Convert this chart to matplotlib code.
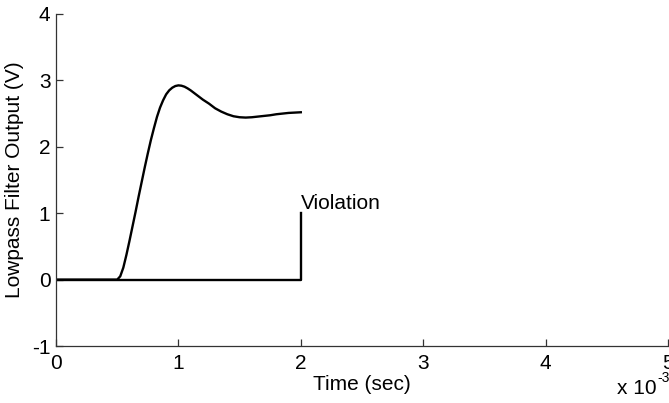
import matplotlib
matplotlib.use("Agg")
import matplotlib.pyplot as plt

plt.rcParams["font.family"] = ["Liberation Sans", "DejaVu Sans"]

# filter output (time in ms)
t_filter_ms = [0, 0.5, 0.525, 0.55, 0.575, 0.6, 0.625, 0.65, 0.675, 0.7, 0.725,
               0.75, 0.775, 0.8, 0.825, 0.85, 0.875, 0.9, 0.925, 0.95, 0.975,
               1.0, 1.025, 1.05, 1.075, 1.1, 1.15, 1.2, 1.25, 1.3, 1.35, 1.4,
               1.45, 1.5, 1.55, 1.6, 1.65, 1.7, 1.75, 1.8, 1.85, 1.9, 1.95, 2.0]
v_filter = [0, 0, 0.05, 0.18, 0.37, 0.58, 0.8, 1.02, 1.25, 1.47, 1.69,
            1.9, 2.1, 2.28, 2.45, 2.59, 2.7, 2.79, 2.85, 2.89, 2.915,
            2.925, 2.92, 2.905, 2.88, 2.85, 2.78, 2.71, 2.65, 2.58, 2.53, 2.49,
            2.46, 2.445, 2.44, 2.445, 2.455, 2.465, 2.475, 2.49, 2.5, 2.51, 2.515, 2.52]

# violation indicator
t_viol_ms = [0, 2.0, 2.0]
v_viol = [0, 0, 1]

x_ticks = [0, 1, 2, 3, 4, 5]
y_ticks = [-1, 0, 1, 2, 3, 4]

fs = 15

fig = plt.figure(figsize=(6.69, 4.03), dpi=100)
ax = fig.add_axes([0.0837, 0.1414, 0.9148, 0.8239])

ax.plot([t * 1e-3 for t in t_filter_ms], v_filter, color="black", linewidth=1.7,
        solid_joinstyle="round")
ax.plot([t * 1e-3 for t in t_viol_ms], v_viol, color="black", linewidth=1.7)
ax.text(2.0e-3, 1.15, "Violation", fontsize=fs, ha="left", va="center")

ax.set_xlim(0, 5e-3)
ax.set_ylim(-1, 4)
ax.set_xticks([x * 1e-3 for x in x_ticks])
ax.set_xticklabels([str(x) for x in x_ticks])
ax.set_yticks(y_ticks)
ax.set_yticklabels([str(y) for y in y_ticks])

for side in ("top", "right"):
    ax.spines[side].set_visible(False)
for side in ("left", "bottom"):
    ax.spines[side].set_color("#333333")
    ax.spines[side].set_linewidth(0.9)
ax.tick_params(direction="in", length=5, width=0.9, color="#333333",
               labelsize=fs, pad=4)
ax.tick_params(axis="x", pad=6)

ax.set_xlabel("Time (sec)", fontsize=fs, labelpad=1)
ax.set_ylabel("Lowpass Filter Output (V)", fontsize=fs, labelpad=6)

# MATLAB-style exponent label
fig.text(0.982, 0.012, "x 10", fontsize=fs, ha="right", va="bottom")
fig.text(0.982, 0.045, "-3", fontsize=10, ha="left", va="bottom")

fig.savefig("out.png", dpi=100)
